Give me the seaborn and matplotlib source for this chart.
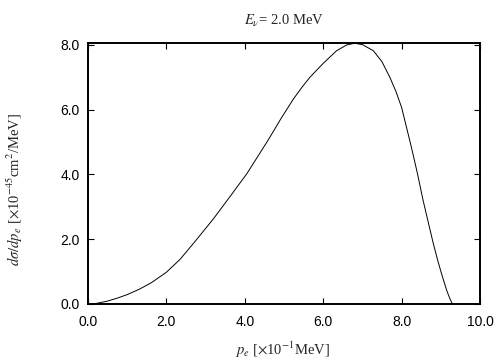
import matplotlib
matplotlib.use("Agg")
import matplotlib.pyplot as plt
import seaborn as sns
import pandas as pd

# electron momentum [x10^-1 MeV] and cross section [x10^-45 cm^2/MeV]
p_e = [0.10, 0.22, 0.50, 0.77, 1.00, 1.30, 1.62, 2.00, 2.35, 2.75, 3.20,
       3.60, 4.05, 4.60, 4.92, 5.24, 5.45, 5.66, 6.00, 6.34, 6.60, 6.80,
       7.00, 7.28, 7.50, 7.70, 7.85, 8.00, 8.25, 8.40, 8.55, 8.70, 8.81,
       8.92, 9.02, 9.15, 9.22, 9.28, 9.30]
dsig = [0.00, 0.02, 0.09, 0.19, 0.29, 0.45, 0.66, 0.98, 1.38, 1.96, 2.63,
        3.28, 4.02, 5.07, 5.72, 6.33, 6.68, 7.00, 7.43, 7.82, 8.00, 8.05,
        8.01, 7.82, 7.48, 7.00, 6.58, 6.07, 4.84, 4.05, 3.19, 2.42, 1.86,
        1.35, 0.93, 0.42, 0.20, 0.04, 0.00]
df = pd.DataFrame({"p_e": p_e, "dsig": dsig})

sns.set_style("ticks")
plt.rcParams["font.family"] = ["Liberation Sans", "DejaVu Sans"]
plt.rcParams["mathtext.fontset"] = "stix"

fig = plt.figure(figsize=(5.04, 3.6), dpi=100)
ax = fig.add_axes([0.1746, 0.1556, 0.7778, 0.725])

sns.lineplot(data=df, x="p_e", y="dsig", ax=ax, color="black", linewidth=0.7)

ax.set_xlim(0, 10)
ax.set_ylim(0, 8.06)
ax.set_xticks([0, 2, 4, 6, 8, 10])
ax.set_xticklabels(["0.0", "2.0", "4.0", "6.0", "8.0", "10.0"])
ax.set_yticks([0, 2, 4, 6, 8])
ax.set_yticklabels(["0.0", "2.0", "4.0", "6.0", "8.0"])
ax.tick_params(direction="in", top=True, right=True, length=4, width=0.8,
               labelsize=10, colors="black")
ax.tick_params(axis="x", pad=8)
ax.tick_params(axis="y", pad=6)
for s in ax.spines.values():
    s.set_linewidth(1.4)
    s.set_color("black")

serif = {"family": ["Liberation Serif", "DejaVu Serif"], "size": 10.5}
ax.set_title(r"$E_\nu$= 2.0 MeV", fontdict=serif, pad=13)
ax.set_xlabel(r"$p_e$ [$\times$10$^{-1}$MeV]", fontdict=serif)
ax.xaxis.set_label_coords(0.496, -0.135)
ax.set_ylabel(r"$d\sigma/dp_e$ [$\times$10$^{-45}$cm$^2$/MeV]", fontdict=serif)
ax.yaxis.set_label_coords(-0.161, 0.44)

fig.savefig("out.png", dpi=100, facecolor="white")
